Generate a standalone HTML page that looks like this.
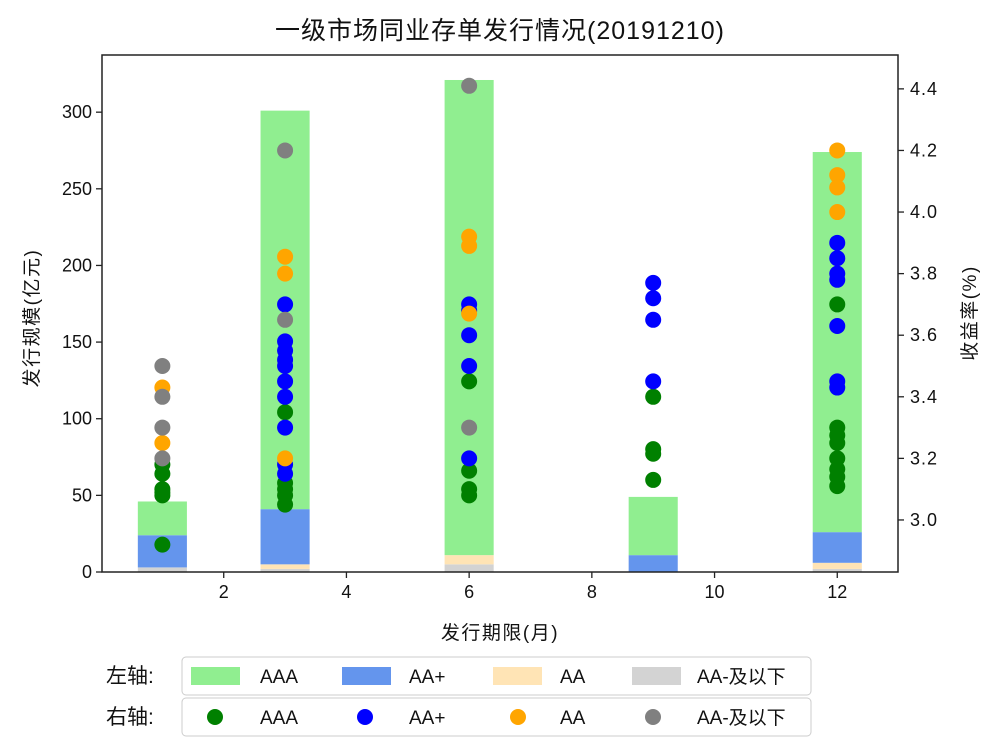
<!DOCTYPE html>
<html><head><meta charset="utf-8">
<style>
html,body{margin:0;padding:0;background:#fff;}
svg{display:block;font-family:"Liberation Sans","Noto Sans CJK SC",sans-serif;}
</style></head>
<body>
<svg id="chart" width="1000" height="755" viewBox="0 0 1000 755" xmlns="http://www.w3.org/2000/svg">
<text x="500" y="39" text-anchor="middle" font-size="25" letter-spacing="1" fill="#111">一级市场同业存单发行情况(20191210)</text>
<g id="bars"></g>
<g id="points"></g>
<rect x="102" y="55" width="796" height="517" fill="none" stroke="#222" stroke-width="1.5"/>
<g id="axes"></g>
<text x="500" y="639" text-anchor="middle" font-size="19" letter-spacing="1.5" fill="#111">发行期限(月)</text>
<text transform="translate(38,318) rotate(-90)" text-anchor="middle" font-size="19" letter-spacing="1.5" fill="#111">发行规模(亿元)</text>
<text transform="translate(976,313) rotate(-90)" text-anchor="middle" font-size="19" letter-spacing="1.5" fill="#111">收益率(%)</text>
<g font-size="19" fill="#111">
<text x="106" y="683" font-size="21">左轴:</text>
<rect x="182" y="657" width="629" height="38" rx="4" fill="#fff" stroke="#ccc"/>
<rect x="191" y="667" width="49" height="18" fill="#90ee90"/>
<text x="260" y="683">AAA</text>
<rect x="342" y="667" width="49" height="18" fill="#6495ed"/>
<text x="409" y="683">AA+</text>
<rect x="493" y="667" width="49" height="18" fill="#ffe4b5"/>
<text x="560" y="683">AA</text>
<rect x="632" y="667" width="49" height="18" fill="#d3d3d3"/>
<text x="697" y="683">AA-及以下</text>
<text x="106" y="724" font-size="21">右轴:</text>
<rect x="182" y="698" width="629" height="38" rx="4" fill="#fff" stroke="#ccc"/>
<circle cx="215" cy="717" r="8" fill="#008000"/>
<text x="260" y="724">AAA</text>
<circle cx="365" cy="717" r="8" fill="#0000ff"/>
<text x="409" y="724">AA+</text>
<circle cx="518" cy="717" r="8" fill="#ffa500"/>
<text x="560" y="724">AA</text>
<circle cx="653" cy="717" r="8" fill="#808080"/>
<text x="697" y="724">AA-及以下</text>
</g>
</svg>
<script>
const months = [1, 3, 6, 9, 12];
const barAAminus = [3, 2, 5, 0, 2];
const barAA = [0, 3, 6, 0, 4];
const barAAplus = [21, 36, 0, 11, 20];
const barAAA = [22, 260, 310, 38, 248];
const xTicks = [2, 4, 6, 8, 10, 12];
const yLeftTicks = [0, 50, 100, 150, 200, 250, 300];
const yRightTicks = [3.0, 3.2, 3.4, 3.6, 3.8, 4.0, 4.2, 4.4];
const yRightTickLabels = ["3.0","3.2","3.4","3.6","3.8","4.0","4.2","4.4"];
const ptsAAA = [[3.18,3.15,3.10,3.09,3.08,2.92],[3.35,3.12,3.10,3.08,3.05],[3.45,3.16,3.10,3.08],[3.40,3.23,3.215,3.13],[3.70,3.30,3.275,3.25,3.20,3.165,3.14,3.11]];
const ptsAAplus = [[],[3.70,3.58,3.55,3.52,3.50,3.45,3.40,3.30,3.18,3.15],[3.70,3.68,3.60,3.50,3.20],[3.77,3.72,3.65,3.45],[3.90,3.85,3.80,3.78,3.63,3.45,3.43]];
const ptsAA = [[3.43,3.25],[3.855,3.80,3.20],[3.92,3.89,3.67],[],[4.20,4.12,4.08,4.00]];
const ptsAAminus = [[3.50,3.40,3.30,3.20],[4.20,3.65],[4.41,3.30],[],[]];

const L=102,R=898,T=55,B=572;
const xMin=0.016,xMax=12.99,yLMax=337.3,yRMin=2.831,yRMax=4.51;
const NS="http://www.w3.org/2000/svg";
function xs(v){return L+(v-xMin)/(xMax-xMin)*(R-L);}
function yl(v){return B-v/yLMax*(B-T);}
function yr(v){return B-(v-yRMin)/(yRMax-yRMin)*(B-T);}
function mk(tag,parent){const e=document.createElementNS(NS,tag);parent.appendChild(e);return e;}
const gb=document.getElementById('bars'),gp=document.getElementById('points'),ga=document.getElementById('axes');
const bw=0.8;
const stacks=[[barAAminus,'#d3d3d3','aaminus'],[barAA,'#ffe4b5','aa'],[barAAplus,'#6495ed','aaplus'],[barAAA,'#90ee90','aaa']];
months.forEach((m,i)=>{
  let base=0;
  stacks.forEach(([arr,col,nm])=>{
    const v=arr[i];
    const r=mk('rect',gb);
    
    
    const x0=xs(m-bw/2),x1=xs(m+bw/2);
    r.setAttribute('x',x0);r.setAttribute('width',x1-x0);
    r.setAttribute('y',yl(base+v));r.setAttribute('height',Math.max(0,yl(base)-yl(base+v)));
    r.setAttribute('fill',col);
    base+=v;
  });
});
const pser=[[ptsAAA,'#008000','aaa'],[ptsAAplus,'#0000ff','aaplus'],[ptsAA,'#ffa500','aa'],[ptsAAminus,'#808080','aaminus']];
pser.forEach(([arr,col,nm])=>{
  months.forEach((m,i)=>{
    arr[i].forEach(v=>{
      const c=mk('circle',gp);
      
      
      c.setAttribute('cx',xs(m));c.setAttribute('cy',yr(v));c.setAttribute('r',8);c.setAttribute('fill',col);
    });
  });
});
xTicks.forEach(t=>{
  const l=mk('line',ga);
  
  
  l.setAttribute('x1',xs(t));l.setAttribute('x2',xs(t));l.setAttribute('y1',B);l.setAttribute('y2',B+6);l.setAttribute('stroke','#222');l.setAttribute('stroke-width','1.3');
  const tx=mk('text',ga);
  
  
  tx.setAttribute('x',xs(t));tx.setAttribute('y',B+26);tx.setAttribute('text-anchor','middle');tx.setAttribute('font-size','18');tx.setAttribute('fill','#111');tx.textContent=t;
});
yLeftTicks.forEach(t=>{
  const l=mk('line',ga);
  
  
  l.setAttribute('x1',L-6);l.setAttribute('x2',L);l.setAttribute('y1',yl(t));l.setAttribute('y2',yl(t));l.setAttribute('stroke','#222');l.setAttribute('stroke-width','1.3');
  const tx=mk('text',ga);
  
  
  tx.setAttribute('x',L-10);tx.setAttribute('y',yl(t)+6);tx.setAttribute('text-anchor','end');tx.setAttribute('font-size','18');tx.setAttribute('fill','#111');tx.textContent=t;
});
yRightTicks.forEach((t,i)=>{
  const l=mk('line',ga);
  
  
  l.setAttribute('x1',R);l.setAttribute('x2',R+6);l.setAttribute('y1',yr(t));l.setAttribute('y2',yr(t));l.setAttribute('stroke','#222');l.setAttribute('stroke-width','1.3');
  const tx=mk('text',ga);
  
  
  tx.setAttribute('x',R+12);tx.setAttribute('y',yr(t)+6);tx.setAttribute('font-size','18');tx.setAttribute('letter-spacing','1');tx.setAttribute('fill','#111');tx.textContent=yRightTickLabels[i];
});
</script>
</body></html>
